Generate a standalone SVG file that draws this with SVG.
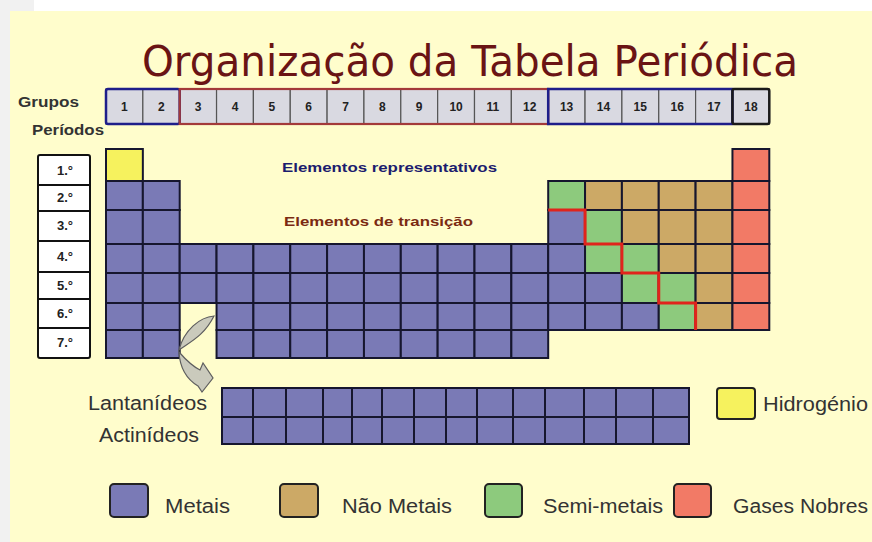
<svg xmlns="http://www.w3.org/2000/svg" width="872" height="542" viewBox="0 0 872 542">
<defs>
<style>
.bg{fill:#FFFDCC}
.m{fill:#7A7AB6}
.n{fill:#CCA966}
.s{fill:#8DCA7D}
.g{fill:#F27A66}
.h{fill:#F6F25E}
.c{stroke:#16162E;stroke-width:2}
.hd{fill:#D9D9E1;stroke:#555;stroke-width:1.2}
.hn{font-family:"Liberation Sans",Arial,sans-serif;font-weight:bold;font-size:12px;fill:#222;text-anchor:middle}
.lbl{font-family:"Liberation Sans",Arial,sans-serif;font-weight:bold;font-size:14px;fill:#333}
.pl{font-family:"Liberation Sans",Arial,sans-serif;font-weight:bold;font-size:13px;fill:#222;text-anchor:middle}
.lg{font-family:"Liberation Sans",Arial,sans-serif;font-size:20px;fill:#333}
.lb{stroke:#222;stroke-width:2}
</style>
</defs>
<rect x="0" y="0" width="872" height="542" fill="#FFFFFF"/>
<rect x="0" y="0" width="34" height="542" fill="#F1F1F1"/>
<rect class="bg" x="10" y="11" width="862" height="531"/>

<g id="title">
<text x="142" y="76" font-family="'DejaVu Sans',sans-serif" font-size="42" fill="#6A1414" textLength="656" lengthAdjust="spacingAndGlyphs">Organização da Tabela Periódica</text>
</g>

<g id="label-grupos"><text class="lbl" x="18" y="107" textLength="61" lengthAdjust="spacingAndGlyphs">Grupos</text></g>
<g id="label-periodos"><text class="lbl" x="32" y="135" textLength="72" lengthAdjust="spacingAndGlyphs">Períodos</text></g>

<g id="groups-header">
<rect class="hd" x="106" y="89" width="36.85" height="35"/><text class="hn" x="124.4" y="111">1</text>
<rect class="hd" x="142.85" y="89" width="36.85" height="35"/><text class="hn" x="161.3" y="111">2</text>
<rect class="hd" x="179.7" y="89" width="36.85" height="35"/><text class="hn" x="198.1" y="111">3</text>
<rect class="hd" x="216.55" y="89" width="36.85" height="35"/><text class="hn" x="235" y="111">4</text>
<rect class="hd" x="253.4" y="89" width="36.85" height="35"/><text class="hn" x="271.8" y="111">5</text>
<rect class="hd" x="290.25" y="89" width="36.85" height="35"/><text class="hn" x="308.7" y="111">6</text>
<rect class="hd" x="327.1" y="89" width="36.85" height="35"/><text class="hn" x="345.5" y="111">7</text>
<rect class="hd" x="363.95" y="89" width="36.85" height="35"/><text class="hn" x="382.4" y="111">8</text>
<rect class="hd" x="400.8" y="89" width="36.85" height="35"/><text class="hn" x="419.2" y="111">9</text>
<rect class="hd" x="437.65" y="89" width="36.85" height="35"/><text class="hn" x="456.1" y="111">10</text>
<rect class="hd" x="474.5" y="89" width="36.85" height="35"/><text class="hn" x="492.9" y="111">11</text>
<rect class="hd" x="511.35" y="89" width="36.85" height="35"/><text class="hn" x="529.8" y="111">12</text>
<rect class="hd" x="548.2" y="89" width="36.85" height="35"/><text class="hn" x="566.6" y="111">13</text>
<rect class="hd" x="585.05" y="89" width="36.85" height="35"/><text class="hn" x="603.5" y="111">14</text>
<rect class="hd" x="621.9" y="89" width="36.85" height="35"/><text class="hn" x="640.3" y="111">15</text>
<rect class="hd" x="658.75" y="89" width="36.85" height="35"/><text class="hn" x="677.2" y="111">16</text>
<rect class="hd" x="695.6" y="89" width="36.85" height="35"/><text class="hn" x="714" y="111">17</text>
<rect class="hd" x="732.45" y="89" width="36.85" height="35"/><text class="hn" x="750.9" y="111">18</text>
<rect x="106" y="89" width="73.7" height="35" rx="2" fill="none" stroke="#1E1E8A" stroke-width="2.5"/>
<rect x="179.7" y="89" width="368.5" height="35" fill="none" stroke="#A33A3A" stroke-width="2.2"/>
<rect x="548.2" y="89" width="184.25" height="35" fill="none" stroke="#1E1E8A" stroke-width="2.5"/>
<rect x="732.45" y="89" width="36.85" height="35" rx="2" fill="none" stroke="#1A1A1A" stroke-width="2.5"/>
</g>

<g id="periods">
<rect x="38" y="155" width="52" height="203" rx="2" fill="#FFFFFF" stroke="#111" stroke-width="2"/>
<path d="M38,185H90M38,211H90M38,241H90M38,272H90M38,299H90M38,328H90" stroke="#111" stroke-width="2" fill="none"/>
<text class="pl" x="65" y="175">1.°</text>
<text class="pl" x="65" y="202">2.°</text>
<text class="pl" x="65" y="230">3.°</text>
<text class="pl" x="65" y="261">4.°</text>
<text class="pl" x="65" y="290">5.°</text>
<text class="pl" x="65" y="318">6.°</text>
<text class="pl" x="65" y="347">7.°</text>
</g>

<g id="labels-blocks">
<text x="282" y="172" font-family="'Liberation Sans',Arial,sans-serif" font-weight="bold" font-size="13.5" fill="#1C1C6E" textLength="215" lengthAdjust="spacingAndGlyphs">Elementos representativos</text>
<text x="284" y="226" font-family="'Liberation Sans',Arial,sans-serif" font-weight="bold" font-size="13.5" fill="#7B2A12" textLength="189" lengthAdjust="spacingAndGlyphs">Elementos de transição</text>
</g>

<g id="period-1">
<rect class="h c" x="106" y="149" width="36.85" height="32"/>
<rect class="g c" x="732.45" y="149" width="36.85" height="32"/>
</g>
<g id="period-2">
<rect class="m c" x="106" y="181" width="36.85" height="29"/>
<rect class="m c" x="142.85" y="181" width="36.85" height="29"/>
<rect class="s c" x="548.2" y="181" width="36.85" height="29"/>
<rect class="n c" x="585.05" y="181" width="36.85" height="29"/>
<rect class="n c" x="621.9" y="181" width="36.85" height="29"/>
<rect class="n c" x="658.75" y="181" width="36.85" height="29"/>
<rect class="n c" x="695.6" y="181" width="36.85" height="29"/>
<rect class="g c" x="732.45" y="181" width="36.85" height="29"/>
</g>
<g id="period-3">
<rect class="m c" x="106" y="210" width="36.85" height="34"/>
<rect class="m c" x="142.85" y="210" width="36.85" height="34"/>
<rect class="m c" x="548.2" y="210" width="36.85" height="34"/>
<rect class="s c" x="585.05" y="210" width="36.85" height="34"/>
<rect class="n c" x="621.9" y="210" width="36.85" height="34"/>
<rect class="n c" x="658.75" y="210" width="36.85" height="34"/>
<rect class="n c" x="695.6" y="210" width="36.85" height="34"/>
<rect class="g c" x="732.45" y="210" width="36.85" height="34"/>
</g>
<g id="period-4">
<rect class="m c" x="106" y="244" width="36.85" height="29"/>
<rect class="m c" x="142.85" y="244" width="36.85" height="29"/>
<rect class="m c" x="179.7" y="244" width="36.85" height="29"/>
<rect class="m c" x="216.55" y="244" width="36.85" height="29"/>
<rect class="m c" x="253.4" y="244" width="36.85" height="29"/>
<rect class="m c" x="290.25" y="244" width="36.85" height="29"/>
<rect class="m c" x="327.1" y="244" width="36.85" height="29"/>
<rect class="m c" x="363.95" y="244" width="36.85" height="29"/>
<rect class="m c" x="400.8" y="244" width="36.85" height="29"/>
<rect class="m c" x="437.65" y="244" width="36.85" height="29"/>
<rect class="m c" x="474.5" y="244" width="36.85" height="29"/>
<rect class="m c" x="511.35" y="244" width="36.85" height="29"/>
<rect class="m c" x="548.2" y="244" width="36.85" height="29"/>
<rect class="s c" x="585.05" y="244" width="36.85" height="29"/>
<rect class="s c" x="621.9" y="244" width="36.85" height="29"/>
<rect class="n c" x="658.75" y="244" width="36.85" height="29"/>
<rect class="n c" x="695.6" y="244" width="36.85" height="29"/>
<rect class="g c" x="732.45" y="244" width="36.85" height="29"/>
</g>
<g id="period-5">
<rect class="m c" x="106" y="273" width="36.85" height="30"/>
<rect class="m c" x="142.85" y="273" width="36.85" height="30"/>
<rect class="m c" x="179.7" y="273" width="36.85" height="30"/>
<rect class="m c" x="216.55" y="273" width="36.85" height="30"/>
<rect class="m c" x="253.4" y="273" width="36.85" height="30"/>
<rect class="m c" x="290.25" y="273" width="36.85" height="30"/>
<rect class="m c" x="327.1" y="273" width="36.85" height="30"/>
<rect class="m c" x="363.95" y="273" width="36.85" height="30"/>
<rect class="m c" x="400.8" y="273" width="36.85" height="30"/>
<rect class="m c" x="437.65" y="273" width="36.85" height="30"/>
<rect class="m c" x="474.5" y="273" width="36.85" height="30"/>
<rect class="m c" x="511.35" y="273" width="36.85" height="30"/>
<rect class="m c" x="548.2" y="273" width="36.85" height="30"/>
<rect class="m c" x="585.05" y="273" width="36.85" height="30"/>
<rect class="s c" x="621.9" y="273" width="36.85" height="30"/>
<rect class="s c" x="658.75" y="273" width="36.85" height="30"/>
<rect class="n c" x="695.6" y="273" width="36.85" height="30"/>
<rect class="g c" x="732.45" y="273" width="36.85" height="30"/>
</g>
<g id="period-6">
<rect class="m c" x="106" y="303" width="36.85" height="27"/>
<rect class="m c" x="142.85" y="303" width="36.85" height="27"/>
<rect class="m c" x="216.55" y="303" width="36.85" height="27"/>
<rect class="m c" x="253.4" y="303" width="36.85" height="27"/>
<rect class="m c" x="290.25" y="303" width="36.85" height="27"/>
<rect class="m c" x="327.1" y="303" width="36.85" height="27"/>
<rect class="m c" x="363.95" y="303" width="36.85" height="27"/>
<rect class="m c" x="400.8" y="303" width="36.85" height="27"/>
<rect class="m c" x="437.65" y="303" width="36.85" height="27"/>
<rect class="m c" x="474.5" y="303" width="36.85" height="27"/>
<rect class="m c" x="511.35" y="303" width="36.85" height="27"/>
<rect class="m c" x="548.2" y="303" width="36.85" height="27"/>
<rect class="m c" x="585.05" y="303" width="36.85" height="27"/>
<rect class="m c" x="621.9" y="303" width="36.85" height="27"/>
<rect class="s c" x="658.75" y="303" width="36.85" height="27"/>
<rect class="n c" x="695.6" y="303" width="36.85" height="27"/>
<rect class="g c" x="732.45" y="303" width="36.85" height="27"/>
</g>
<g id="period-7">
<rect class="m c" x="106" y="330" width="36.85" height="28"/>
<rect class="m c" x="142.85" y="330" width="36.85" height="28"/>
<rect class="m c" x="216.55" y="330" width="36.85" height="28"/>
<rect class="m c" x="253.4" y="330" width="36.85" height="28"/>
<rect class="m c" x="290.25" y="330" width="36.85" height="28"/>
<rect class="m c" x="327.1" y="330" width="36.85" height="28"/>
<rect class="m c" x="363.95" y="330" width="36.85" height="28"/>
<rect class="m c" x="400.8" y="330" width="36.85" height="28"/>
<rect class="m c" x="437.65" y="330" width="36.85" height="28"/>
<rect class="m c" x="474.5" y="330" width="36.85" height="28"/>
<rect class="m c" x="511.35" y="330" width="36.85" height="28"/>
</g>

<g id="staircase">
<path d="M548.2,210H585.05V244H621.9V273H658.75V303H695.6V330" fill="none" stroke="#E0241C" stroke-width="3"/>
</g>

<g id="lanthanides">
<rect class="m c" x="222" y="388" width="31" height="29"/>
<rect class="m c" x="253" y="388" width="33" height="29"/>
<rect class="m c" x="286" y="388" width="37" height="29"/>
<rect class="m c" x="323" y="388" width="29" height="29"/>
<rect class="m c" x="352" y="388" width="30" height="29"/>
<rect class="m c" x="382" y="388" width="32" height="29"/>
<rect class="m c" x="414" y="388" width="32" height="29"/>
<rect class="m c" x="446" y="388" width="31" height="29"/>
<rect class="m c" x="477" y="388" width="36" height="29"/>
<rect class="m c" x="513" y="388" width="32" height="29"/>
<rect class="m c" x="545" y="388" width="39" height="29"/>
<rect class="m c" x="584" y="388" width="32" height="29"/>
<rect class="m c" x="616" y="388" width="37" height="29"/>
<rect class="m c" x="653" y="388" width="36" height="29"/>
<text class="lg" x="88" y="410" textLength="119" lengthAdjust="spacingAndGlyphs">Lantanídeos</text>
</g>
<g id="actinides">
<rect class="m c" x="222" y="417" width="31" height="27"/>
<rect class="m c" x="253" y="417" width="33" height="27"/>
<rect class="m c" x="286" y="417" width="37" height="27"/>
<rect class="m c" x="323" y="417" width="29" height="27"/>
<rect class="m c" x="352" y="417" width="30" height="27"/>
<rect class="m c" x="382" y="417" width="32" height="27"/>
<rect class="m c" x="414" y="417" width="32" height="27"/>
<rect class="m c" x="446" y="417" width="31" height="27"/>
<rect class="m c" x="477" y="417" width="36" height="27"/>
<rect class="m c" x="513" y="417" width="32" height="27"/>
<rect class="m c" x="545" y="417" width="39" height="27"/>
<rect class="m c" x="584" y="417" width="32" height="27"/>
<rect class="m c" x="616" y="417" width="37" height="27"/>
<rect class="m c" x="653" y="417" width="36" height="27"/>
<text class="lg" x="99" y="442" textLength="100" lengthAdjust="spacingAndGlyphs">Actinídeos</text>
</g>

<g id="connectors">
<path d="M214,316 C200,317 184,330 179,350 C190,342 204,336 214,316 Z" fill="#CACABC" stroke="#5E5E5E" stroke-width="1.2"/>
<path d="M179,352 C186,360 192,366 200,370 L203,363 L213,378 L202,392 L198,386 C188,380 180,370 179,352 Z" fill="#CACABC" stroke="#5E5E5E" stroke-width="1.2"/>
</g>

<g id="legend-hidrogenio">
<rect class="h lb" x="717" y="388" width="38" height="31" rx="3"/>
<text class="lg" x="763" y="411" textLength="105" lengthAdjust="spacingAndGlyphs">Hidrogénio</text>
</g>
<g id="legend-metais">
<rect class="m lb" x="110" y="484" width="38" height="33" rx="4"/>
<text class="lg" x="165" y="513" textLength="65" lengthAdjust="spacingAndGlyphs">Metais</text>
</g>
<g id="legend-nao-metais">
<rect class="n lb" x="280" y="484" width="38" height="33" rx="4"/>
<text class="lg" x="342" y="513" textLength="110" lengthAdjust="spacingAndGlyphs">Não Metais</text>
</g>
<g id="legend-semi-metais">
<rect class="s lb" x="485" y="484" width="37" height="33" rx="4"/>
<text class="lg" x="543" y="513" textLength="120" lengthAdjust="spacingAndGlyphs">Semi-metais</text>
</g>
<g id="legend-gases-nobres">
<rect class="g lb" x="674" y="484" width="37" height="33" rx="4"/>
<text class="lg" x="733" y="513" textLength="135" lengthAdjust="spacingAndGlyphs">Gases Nobres</text>
</g>
</svg>
